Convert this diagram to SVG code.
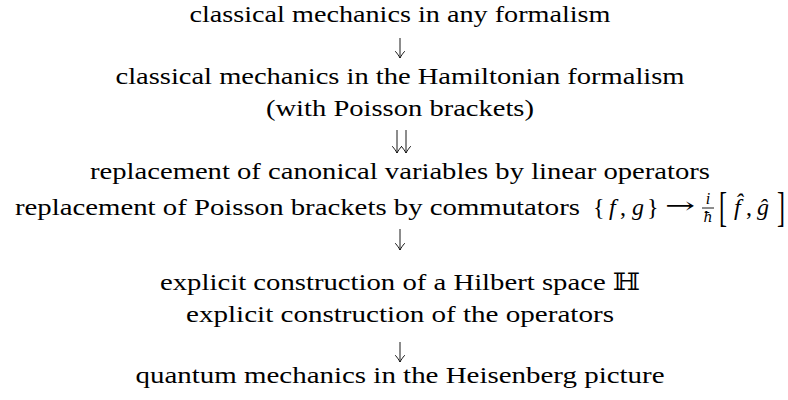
<svg xmlns="http://www.w3.org/2000/svg" width="788" height="400" viewBox="0 0 788 400">
<defs>
<path id="ah" d="M-4.5,-6.5 C-2.5,-4.2 -1,-2 0,0 C1,-2 2.5,-4.2 4.5,-6.5" fill="none" stroke="#000" stroke-width="0.9" stroke-linecap="round"/>
</defs>
<style>
.t{font-family:"Liberation Serif","Times New Roman",serif;font-size:24px;fill:#000;text-anchor:middle}
.r{font-family:"Liberation Serif","Times New Roman",serif;font-size:24px;fill:#000}
.m{font-family:"Liberation Serif","Times New Roman",serif;font-size:24px;fill:#000;font-style:italic}
.s{stroke:#000;stroke-width:0.9;fill:none}
</style>
<rect width="788" height="400" fill="#fff"/>
<g id="n1"><text class="t" x="400" y="22" textLength="421" lengthAdjust="spacingAndGlyphs">classical mechanics in any formalism</text></g>
<g id="n2">
<text class="t" x="400" y="84" textLength="569" lengthAdjust="spacingAndGlyphs">classical mechanics in the Hamiltonian formalism</text>
<text class="t" x="400" y="116" textLength="268" lengthAdjust="spacingAndGlyphs">(with Poisson brackets)</text>
</g>
<g id="n3">
<text class="t" x="400" y="179" textLength="620" lengthAdjust="spacingAndGlyphs">replacement of canonical variables by linear operators</text>
<text class="r" x="15" y="215" textLength="565" lengthAdjust="spacingAndGlyphs">replacement of Poisson brackets by commutators</text>
<text class="r" x="593" y="215">{</text>
<text class="m" x="609" y="215">f</text>
<text class="r" x="620" y="215">,</text>
<text class="m" x="632" y="215">g</text>
<text class="r" x="647" y="215">}</text>
<text x="665" y="213" textLength="30" lengthAdjust="spacingAndGlyphs" style="font-family:'DejaVu Serif',serif;font-size:22px;fill:#000">→</text>
<text class="m" x="708" y="204" text-anchor="middle" style="font-size:16px">i</text>
<line x1="702" y1="208" x2="714" y2="208" class="s" stroke-width="0.7"/>
<text x="708" y="222" text-anchor="middle" style="font-family:'DejaVu Serif',serif;font-size:14px;font-style:italic;fill:#000">ħ</text>
<text class="r" transform="translate(719,220.5) scale(1,1.75)" x="0" y="0">[</text>
<text class="m" x="734" y="215">f̂</text>
<text class="r" x="746" y="215">,</text>
<text class="m" x="757" y="215">ĝ</text>
<text class="r" transform="translate(777,220.5) scale(1,1.75)" x="0" y="0">]</text>
</g>
<g id="n4">
<text class="t" x="400" y="290" textLength="480" lengthAdjust="spacingAndGlyphs">explicit construction of a Hilbert space <tspan style="font-family:'DejaVu Serif',serif">ℍ</tspan></text>
<text class="t" x="400" y="322" textLength="428" lengthAdjust="spacingAndGlyphs">explicit construction of the operators</text>
</g>
<g id="n5"><text class="t" x="400" y="383" textLength="529" lengthAdjust="spacingAndGlyphs">quantum mechanics in the Heisenberg picture</text></g>
<g id="connectors">
<line class="s" x1="400" y1="38" x2="400" y2="58"/><use href="#ah" x="400" y="58"/>
<line class="s" x1="397" y1="130" x2="397" y2="153"/><use href="#ah" x="397" y="153"/>
<line class="s" x1="406" y1="130" x2="406" y2="153"/><use href="#ah" x="406" y="153"/>
<line class="s" x1="400" y1="229" x2="400" y2="250"/><use href="#ah" x="400" y="250"/>
<line class="s" x1="400" y1="342" x2="400" y2="362"/><use href="#ah" x="400" y="362"/>
</g>
</svg>
